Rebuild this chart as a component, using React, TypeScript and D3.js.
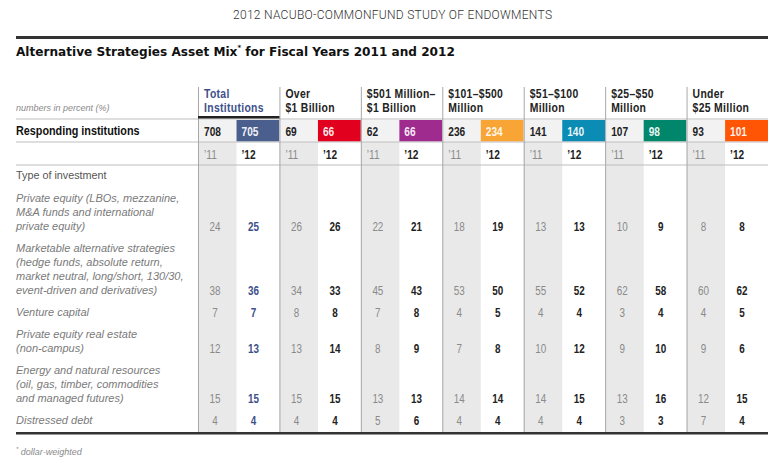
import React from "react";
import * as d3 from "d3";

const pageTitle = "2012 NACUBO-COMMONFUND STUDY OF ENDOWMENTS";
const chartTitle = "Alternative Strategies Asset Mix";
const chartTitleRest = " for Fiscal Years 2011 and 2012";
const unitNote = "numbers in percent (%)";
const footnote = "dollar-weighted";
const respondingLabel = "Responding institutions";
const typeLabel = "Type of investment";

const groupHeaders: string[][] = [
  ["Total", "Institutions"],
  ["Over", "$1 Billion"],
  ["$501 Million–", "$1 Billion"],
  ["$101–$500", "Million"],
  ["$51–$100", "Million"],
  ["$25–$50", "Million"],
  ["Under", "$25 Million"],
];
const years = ["’11", "’12"];
const responding11 = [708, 69, 62, 236, 141, 107, 93];
const responding12 = [705, 66, 66, 234, 140, 98, 101];
const groupColors = ["#4b5f8f", "#e1001e", "#9e2b8d", "#f8a536", "#0b8cb4", "#00866a", "#ff5505"];

const investmentLabels: string[][] = [
  ["Private equity (LBOs, mezzanine,", "M&A funds and international", "private equity)"],
  ["Marketable alternative strategies", "(hedge funds, absolute return,", "market neutral, long/short, 130/30,", "event-driven and derivatives)"],
  ["Venture capital"],
  ["Private equity real estate", "(non-campus)"],
  ["Energy and natural resources", "(oil, gas, timber, commodities", "and managed futures)"],
  ["Distressed debt"],
];
const values11: number[][] = [
  [24, 26, 22, 18, 13, 10, 8],
  [38, 34, 45, 53, 55, 62, 60],
  [7, 8, 7, 4, 4, 3, 4],
  [12, 13, 8, 7, 10, 9, 9],
  [15, 15, 13, 14, 14, 13, 12],
  [4, 4, 5, 4, 4, 3, 7],
];
const values12: number[][] = [
  [25, 26, 21, 19, 13, 9, 8],
  [36, 33, 43, 50, 52, 58, 62],
  [7, 8, 8, 5, 4, 4, 5],
  [13, 14, 9, 8, 12, 10, 6],
  [15, 15, 13, 14, 15, 16, 15],
  [4, 4, 6, 4, 4, 3, 4],
];

const SANS = "'Liberation Sans', Arial, sans-serif";
const LIGHT = "Roboto, 'Liberation Sans', sans-serif";

// condensed text: Liberation Sans squeezed horizontally
function CT(props: any) {
  const { x, y, sx = 0.78, children, ...rest } = props;
  return (
    <text transform={`translate(${x},${y}) scale(${sx},1)`} dominantBaseline="central" fontFamily={SANS} {...rest}>
      {children}
    </text>
  );
}

export default function App() {
  const W = 782, H = 462;
  const left = 16, right = 768;
  const x = d3.scaleBand<number>().domain(d3.range(groupHeaders.length)).range([198, right]);
  const bw = x.bandwidth();
  const sub = d3.scaleOrdinal<string, number>().domain(years).range([0, bw * 0.473]);
  const subW = (yr: string) => (yr === years[0] ? bw * 0.473 : bw * 0.527);

  // row layout
  const lineH = 14;
  const rowGap = 22;
  const rows: { lines: number[]; valueY: number }[] = [];
  let yy = 198;
  investmentLabels.forEach((lab) => {
    const lines = lab.map((_, i) => yy + i * lineH);
    rows.push({ lines, valueY: lines[lines.length - 1] });
    yy = lines[lines.length - 1] + rowGap;
  });

  const gridTop = 142, gridBottom = 432;
  const lineColor = "#bdbdbd";

  return (
    <svg width={W} height={H} style={{ display: "block", position: "absolute", left: 0, top: 0, background: "#fff" }}>
      {/* page title */}
      <text x={233} y={15} dominantBaseline="central" fontFamily={LIGHT} fontWeight={300}
        fontSize={12} textLength={319} lengthAdjust="spacing" fill="#333">{pageTitle}</text>
      <rect x={left} y={36} width={right - left} height={3} fill="#333" />
      <text x={left} y={52} dominantBaseline="central" fontFamily="'DejaVu Sans', sans-serif" fontWeight={700}
        fontSize={12.1} fill="#111">
        {chartTitle}
        <tspan fontSize={7} dy={-4}>*</tspan>
        <tspan dy={4}>{chartTitleRest}</tspan>
      </text>

      {/* gray 2011 columns */}
      {groupHeaders.map((_, g) => (
        <rect key={"gc" + g} x={x(g)! + sub(years[0])} y={gridTop} width={subW(years[0])}
          height={gridBottom - gridTop} fill="#e9e9e9" />
      ))}

      {/* responding row cells */}
      {groupHeaders.map((_, g) => (
        <g key={"rc" + g}>
          <rect x={x(g)! + sub(years[0])} y={120} width={subW(years[0])} height={21.5} fill="#f2f2f2" />
          <rect x={x(g)! + sub(years[1])} y={120} width={subW(years[1])} height={21.5} fill={groupColors[g]} />
          <CT x={x(g)! + sub(years[0]) + 6} y={131} fontWeight={700} fontSize={13} fill="#222">{responding11[g]}</CT>
          <CT x={x(g)! + sub(years[1]) + 5} y={131} fontWeight={700} fontSize={13} fill="#fff" fillOpacity={0.93}>
            {responding12[g]}
          </CT>
        </g>
      ))}

      {/* horizontal rules */}
      {[119, 142, 165].map((ly) => (
        <line key={"h" + ly} x1={left} x2={right} y1={ly} y2={ly} stroke={lineColor} strokeWidth={1} />
      ))}

      {/* vertical group dividers */}
      {groupHeaders.map((_, g) => (
        <line key={"v" + g} x1={x(g)! + 0.5} x2={x(g)! + 0.5} y1={87} y2={gridBottom} stroke="#a8a8a8" strokeWidth={1} />
      ))}

      {/* group headers */}
      {groupHeaders.map((lines, g) =>
        lines.map((l, i) => (
          <CT key={"gh" + g + i} x={x(g)! + 6} y={93 + i * 14.5} sx={0.8} fontWeight={700} fontSize={13}
            letterSpacing={0.4} fill={g === 0 ? "#3d5089" : "#222"}>{l}</CT>
        ))
      )}
      <rect x={x(0)!} y={116} width={bw} height={2.5} fill="#222" />

      {/* left labels */}
      <text x={left} y={108} dominantBaseline="central" fontFamily={SANS} fontStyle="italic"
        fontSize={9} fill="#8a8a8a">{unitNote}</text>
      <CT x={left} y={131} sx={0.8} fontWeight={700} fontSize={13.5} fill="#111">{respondingLabel}</CT>

      {/* year labels */}
      {groupHeaders.map((_, g) =>
        years.map((yr, j) => (
          <CT key={"y" + g + j} x={x(g)! + sub(yr) + (j === 0 ? 6 : 5)} y={154} fontWeight={j === 0 ? 400 : 700}
            fontSize={13} fill={j === 0 ? "#8a8a8a" : "#222"}>{yr}</CT>
        ))
      )}

      <text x={left} y={175} dominantBaseline="central" fontFamily={SANS} fontSize={10.8} fill="#555">{typeLabel}</text>

      {/* rows */}
      {investmentLabels.map((lab, r) => (
        <g key={"r" + r}>
          {lab.map((l, i) => (
            <text key={i} x={left} y={rows[r].lines[i]} dominantBaseline="central" fontFamily={SANS}
              fontStyle="italic" fontSize={11} fill="#7a7a7a">{l}</text>
          ))}
          {groupHeaders.map((_, g) => (
            <g key={g}>
              <CT x={x(g)! + sub(years[0]) + 17} y={rows[r].valueY} textAnchor="middle" sx={0.76}
                fontSize={13} fill="#8a8a8a">{values11[r][g]}</CT>
              <CT x={x(g)! + sub(years[1]) + 17} y={rows[r].valueY} textAnchor="middle" sx={0.76}
                fontWeight={700} fontSize={13} fill={g === 0 ? "#3d5089" : "#222"}>{values12[r][g]}</CT>
            </g>
          ))}
        </g>
      ))}

      <rect x={left} y={432} width={right - left} height={2.5} fill="#333" />
      <text x={left} y={452} dominantBaseline="central" fontFamily={SANS} fontStyle="italic"
        fontSize={9} fill="#8a8a8a">
        <tspan fontSize={6} dy={-3}>*</tspan>
        <tspan dy={3}> {footnote}</tspan>
      </text>
    </svg>
  );
}
